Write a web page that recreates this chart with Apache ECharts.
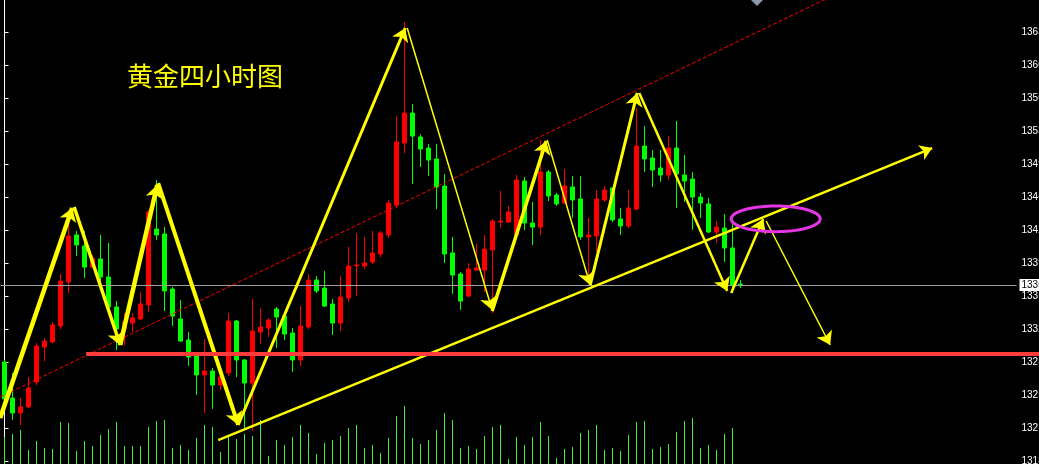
<!DOCTYPE html>
<html><head><meta charset="utf-8">
<script src="https://cdn.jsdelivr.net/npm/echarts@6/dist/echarts.min.js"></script>
<style>html,body{margin:0;padding:0;background:#000;overflow:hidden}#c{width:1039px;height:464px}</style>
</head><body><div id="c"></div>
<script>
// ---- candle data (4H gold) ----
const opens=[1328.50,1324.68,1323.09,1323.73,1326.38,1330.09,1330.62,1332.31,1336.98,1341.97,
1340.80,1338.57,1339.42,1337.51,1334.33,1331.99,1332.63,1333.06,1334.54,1342.60,
1342.07,1336.24,1333.06,1330.83,1329.24,1327.12,1327.54,1326.06,1327.33,1332.84,
1328.71,1326.27,1331.68,1332.10,1334.12,1333.37,1331.57,1328.71,1332.21,1337.19,
1336.34,1334.65,1332.63,1335.28,1338.68,1338.68,1339.10,1339.95,1341.97,1345.15,
1351.72,1354.90,1352.36,1351.19,1350.03,1347.16,1340.06,1337.83,1335.49,1338.25,
1338.25,1340.38,1343.34,1343.34,1341.97,1347.69,1343.24,1342.81,1348.65,1346.21,
1345.36,1347.06,1345.79,1341.76,1341.86,1345.68,1346.95,1343.66,1342.92,1344.72,
1351.40,1350.13,1349.07,1348.33,1351.19,1348.33,1347.90,1345.99,1345.26,1342.28,
1342.71,1340.59,1336.77];
const closes=[1324.58,1323.09,1323.73,1325.74,1330.19,1330.72,1332.42,1337.09,1341.86,1340.91,
1338.57,1339.53,1337.51,1334.33,1331.99,1332.74,1333.16,1334.65,1344.41,1341.97,
1336.03,1333.37,1330.72,1329.03,1327.12,1327.54,1326.06,1326.91,1332.84,1328.71,
1326.27,1331.78,1332.21,1332.95,1333.27,1331.46,1328.71,1332.31,1337.19,1336.03,
1334.43,1332.63,1335.39,1338.68,1338.78,1339.00,1340.06,1342.18,1345.36,1351.83,
1354.90,1352.46,1351.09,1349.92,1347.06,1339.95,1337.72,1334.96,1338.36,1338.47,
1340.48,1343.45,1343.45,1344.41,1347.80,1343.24,1342.81,1348.65,1346.10,1345.26,
1347.16,1345.68,1341.76,1341.97,1345.79,1346.74,1343.56,1342.92,1344.83,1351.40,
1350.03,1348.86,1348.33,1351.19,1348.43,1347.69,1345.99,1345.36,1342.28,1342.81,
1340.59,1336.66,1336.66];
const lows=[1323.94,1322.35,1321.82,1323.62,1326.06,1328.60,1330.51,1331.99,1335.81,1339.74,
1337.40,1338.47,1336.88,1333.69,1329.77,1330.30,1331.68,1332.95,1333.80,1341.44,
1333.90,1332.31,1330.62,1328.07,1325.01,1323.09,1323.52,1325.53,1327.01,1326.91,
1321.50,1321.18,1330.40,1331.15,1329.98,1330.83,1327.44,1328.07,1331.99,1335.81,
1334.33,1331.36,1331.78,1334.86,1335.49,1338.36,1338.89,1339.63,1341.65,1344.83,
1350.66,1347.37,1349.18,1348.22,1344.72,1338.99,1335.71,1334.01,1335.39,1338.15,
1335.92,1333.69,1342.71,1343.24,1341.86,1342.50,1340.91,1341.97,1345.57,1345.05,
1345.26,1343.77,1341.44,1337.40,1340.16,1345.47,1343.34,1341.97,1342.71,1344.62,
1348.65,1347.06,1347.59,1347.80,1344.83,1345.47,1342.50,1343.77,1342.18,1341.12,
1339.10,1335.81,1336.34];
const highs=[1328.71,1327.33,1324.68,1326.91,1330.51,1331.04,1332.74,1337.83,1344.62,1342.39,
1342.39,1339.85,1341.97,1341.12,1334.96,1333.69,1333.69,1335.92,1344.62,1347.80,
1342.81,1336.45,1335.07,1331.68,1329.35,1330.94,1327.86,1327.12,1333.69,1332.95,
1328.81,1335.18,1334.22,1333.16,1334.33,1333.69,1332.10,1334.43,1337.83,1337.62,
1338.15,1335.18,1337.62,1340.70,1342.18,1341.76,1342.39,1342.39,1345.68,1354.58,
1364.56,1355.86,1352.67,1351.62,1351.62,1348.43,1341.76,1338.04,1338.99,1341.01,
1341.97,1343.66,1346.64,1345.05,1348.33,1348.12,1345.47,1352.04,1348.86,1346.42,
1348.96,1348.22,1348.22,1343.77,1346.74,1347.16,1346.95,1344.83,1346.74,1355.43,
1353.53,1350.98,1350.98,1352.46,1354.05,1350.45,1348.65,1346.42,1345.89,1343.45,
1344.19,1343.24,1337.19];
const volumes=[27,30,34,14,23,16,15,42,41,13,
23,18,29,35,42,18,18,18,37,43,
44,16,19,14,26,39,37,12,27,25,
30,28,44,8,24,19,27,39,31,10,
21,24,28,36,39,16,19,11,26,48,
58,26,20,24,34,51,44,16,18,15,
28,37,39,5,27,19,27,42,28,6,
15,17,31,34,39,14,16,13,29,42,
43,15,17,20,32,43,46,16,19,14,
30,36];
const slotCount=127;
const categories=Array.from({length:slotCount},(_,i)=>'K'+(i+1));
const priceTicks=[1318.00,1321.50,1325.00,1328.50,1332.00,1335.50,1339.00,1342.50,1346.00,1349.50,1353.00,1356.50,1360.00,1363.50];
const title='黄金四小时图';

// ---- annotations in [bar index, price] ----
const zigzagLegs=[
 [[-0.54,1322.56],[8.46,1344.83]],
 [[8.71,1344.93],[14.46,1330.30]],
 [[14.46,1330.30],[19.09,1347.27]],
 [[19.21,1347.48],[29.21,1321.82]],
 [[29.21,1321.82],[50.09,1363.92]],
 [[50.34,1363.92],[60.96,1334.01]],
 [[60.96,1333.90],[67.71,1351.94]],
 [[67.84,1352.04],[73.21,1336.66]],
 [[73.21,1336.66],[79.09,1357.03]],
 [[79.34,1357.03],[90.34,1336.03]],
 [[90.84,1335.81],[94.84,1343.66]],
 [[95.21,1343.45],[103.21,1330.30]]
];
const legWidths=[4.5,3.5,4.5,4,3,1.5,3.5,1.5,3,2.5,2.5,1.5];
const supportLine=[[26.71,1320.22],[115.96,1351.19]];
const channelLine=[[-0.54,1324.78],[104.5,1367.74]];
const supportLevel=[[10.21,1329.42],[129.5,1329.42]];
const ellipseMark=[[96.4,1343.68,5.56,1.36]];

const candleData=opens.map((o,i)=>[o,closes[i],lows[i],highs[i]]);
const lastPrice=closes[closes.length-1];

const chart=echarts.init(document.getElementById('c'),null,{renderer:'canvas'});
chart.setOption({
 animation:false,
 backgroundColor:'#000000',
 title:{text:title,left:122,top:58,textStyle:{color:'#ffff00',fontSize:26,fontWeight:'normal',fontFamily:'Noto Sans CJK SC'}},
 graphic:[{type:'polygon',shape:{points:[[751,0],[763,0],[757,6]]},style:{fill:'#8c97ab'},z:100}],
 grid:{left:0.5,right:22.5,top:0,bottom:0,containLabel:false,outerBoundsMode:'none'},
 xAxis:[
  {type:'category',data:categories,show:false,boundaryGap:true},
  {type:'value',min:-0.5,max:slotCount-0.5,show:false}
 ],
 yAxis:[
  {type:'value',position:'right',min:1317.68,max:1366.89,scale:true,
   splitLine:{show:false},
   axisLine:{show:true,lineStyle:{color:'#ffffff',width:1}},
   axisTick:{show:true,length:4,lineStyle:{color:'#ffffff'},customValues:priceTicks},
   axisLabel:{show:true,customValues:priceTicks,color:'#ffffff',fontSize:10,fontFamily:'Liberation Sans',margin:5,hideOverlap:false,formatter:v=>Number(v).toFixed(2)}},
  {type:'value',min:0,max:464,show:false}
 ],
 series:[
  {type:'bar',name:'Volume',xAxisIndex:0,yAxisIndex:1,data:volumes,barWidth:1,itemStyle:{color:'#3cf03c'},z:1,silent:true},
  {type:'candlestick',name:'XAUUSD H4',xAxisIndex:0,yAxisIndex:0,data:candleData,barWidth:4,z:3,
   itemStyle:{color:'#ff0000',color0:'#00ff00',borderColor:'#ff0000',borderColor0:'#00ff00',borderWidth:1},
   markLine:{silent:true,symbol:['none','none'],animation:false,
    lineStyle:{color:'#a0a0a0',width:1,type:'solid'},
    label:{show:true,position:'end',distance:3,formatter:()=>lastPrice.toFixed(2),color:'#000',backgroundColor:'#ffffff',fontSize:10,fontFamily:'Liberation Sans',padding:[1,2,1,2]},
    data:[{yAxis:lastPrice}]}},
  {type:'lines',coordinateSystem:'cartesian2d',xAxisIndex:1,yAxisIndex:0,z:4,silent:true,
   symbol:['none','none'],lineStyle:{color:'#ff0000',width:1,type:[4,2],opacity:1},
   data:[{coords:channelLine}]},
  {type:'lines',coordinateSystem:'cartesian2d',xAxisIndex:1,yAxisIndex:0,z:5,silent:true,
   symbol:['none','arrow'],symbolSize:12,lineStyle:{color:'#ffff00',width:2.5,opacity:1},
   data:[{coords:supportLine}]},
  {type:'lines',coordinateSystem:'cartesian2d',xAxisIndex:1,yAxisIndex:0,z:6,silent:true,
   symbol:['none','arrow'],symbolSize:13,lineStyle:{color:'#ffff00',opacity:1},
   data:zigzagLegs.map((c,i)=>({coords:c,lineStyle:{width:legWidths[i],color:'#ffff00'}}))},
  {type:'lines',coordinateSystem:'cartesian2d',xAxisIndex:1,yAxisIndex:0,z:7,silent:true,clip:false,
   symbol:['none','none'],lineStyle:{color:'#ff3b3b',width:4,opacity:1},
   data:[{coords:supportLevel}]},
  {type:'custom',xAxisIndex:1,yAxisIndex:0,z:8,silent:true,data:ellipseMark,
   renderItem:(params,api)=>{
     const cx=api.value(0),cy=api.value(1),rx=api.value(2),ry=api.value(3);
     const c=api.coord([cx,cy]),e=api.coord([cx+rx,cy+ry]);
     const a=e[0]-c[0],b=c[1]-e[1];
     const pts=[];
     for(let i=0;i<90;i++){const t=i/90*Math.PI*2;pts.push([c[0]+a*Math.cos(t),c[1]+b*Math.sin(t)]);}
     return {type:'polygon',shape:{points:pts},style:{fill:'none',stroke:'#e535e5',lineWidth:3}};
   }}
 ]
});
</script></body></html>
